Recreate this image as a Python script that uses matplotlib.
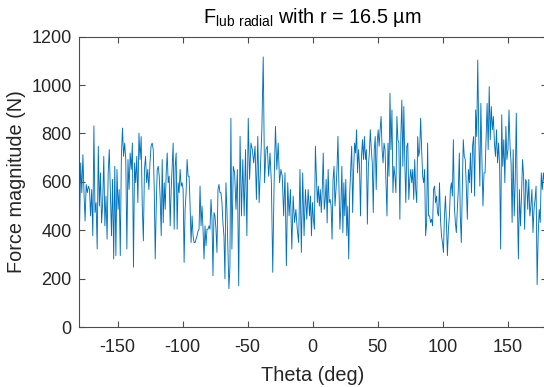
import numpy as np
import matplotlib
matplotlib.use("Agg")
import matplotlib.pyplot as plt

plt.rcParams['font.family'] = ['Liberation Sans', 'DejaVu Sans']
plt.rcParams['axes.unicode_minus'] = False
plt.rcParams['mathtext.default'] = 'regular'

# Force values (N), segment by segment along theta
seg1 = [500, 430, 678, 555, 712, 555, 438, 589, 555, 582, 568, 459, 568, 377, 831, 473, 514, 322,
        747, 500, 637, 430, 514, 705, 418, 541, 363, 637, 733, 555, 377, 610, 281, 664, 295, 651,
        486, 568, 295, 705, 822, 705, 760, 692, 322, 692, 568, 719, 651, 760, 247, 678, 596, 705,
        514, 801, 692, 787, 500, 356, 651, 705, 596, 651, 568, 678, 747, 760]
seg2 = [733, 568, 281, 500, 651, 664, 623, 527, 377, 692, 430, 596, 486, 637, 719, 596, 623, 418,
        568, 664, 760, 404, 664, 719, 404, 596, 555, 651, 582, 596, 568, 267, 486, 555, 692, 623,
        623, 500, 349, 459, 377, 349, 349, 363, 377, 397, 404, 582, 418, 500, 404, 281, 418, 336,
        404, 404, 418, 404, 527, 445, 212, 473, 459, 404, 308, 568, 589, 555, 555, 514, 430, 377,
        199, 596, 486, 322, 158, 247, 863]
seg3 = [322, 664, 637, 486, 651, 171, 788, 459, 692, 459, 733, 377, 863, 610, 760, 733, 678, 747,
        527, 788, 514, 664, 815, 1116, 596, 733, 747, 623, 719, 596, 226, 596, 829, 651, 760, 596,
        651, 623, 459, 637, 253, 596, 459, 568, 322, 541, 432, 486, 404, 349, 651, 308, 637, 377,
        568, 445, 568]
seg4 = [459, 541, 377, 514, 445, 404, 747, 623, 514, 582, 500, 568, 473, 568, 719, 486, 527, 610,
        430, 651, 514, 527, 500, 363, 610, 664, 500, 568, 651, 788, 582, 404, 500, 664, 390, 596,
        459, 610, 377, 500, 281, 555, 651, 747, 473, 651, 760, 719, 815, 637, 733, 664, 459, 705,
        774, 692, 787, 692, 733, 425, 664, 719, 815, 733, 678, 473, 733, 787, 568, 760, 815, 747,
        815, 870, 733, 678, 760, 733, 596]
seg5 = [459, 760, 623, 966, 733, 897, 555, 664, 623, 555, 870, 774, 760, 445, 787, 938, 664, 911,
        678, 514, 747, 760, 527, 610, 651, 596, 651, 527, 692, 568, 514, 787, 705, 733, 863, 733,
        623, 596, 651, 377, 430, 760, 459, 459, 432, 445, 418, 568, 582, 514, 541, 473, 459, 596,
        445, 377, 349, 308, 459, 541, 432, 295, 404, 459, 568, 596, 541, 774, 500, 432, 390, 486,
        568, 719, 459, 349, 568, 774, 705]
seg6 = [692, 582, 445, 651, 596, 719, 555, 747, 787, 541, 897, 787, 1103, 787, 582, 924, 692, 500,
        637, 637, 774, 924, 733, 993, 774, 911, 815, 870, 760, 705, 815, 678, 760, 664, 322, 877,
        664, 774, 596, 829, 692, 733, 897, 747, 678, 432, 733, 459, 610, 884, 527, 281, 568, 418,
        541, 692, 623, 404, 610, 596, 486, 610, 459, 500, 568, 390, 486, 527, 582, 175, 377, 486,
        432, 637, 568, 637, 596, 555, 596]

segments = [seg1, seg2, seg3, seg4, seg5, seg6]
seg_bounds = [-180, -122.5, -62.0, -2.3, 57.3, 117.5, 180]

x_ticks = [-150, -100, -50, 0, 50, 100, 150]
y_ticks = [0, 200, 400, 600, 800, 1000, 1200]

theta_parts = []
for i, s in enumerate(segments):
    last = (i == len(segments) - 1)
    theta_parts.append(np.linspace(seg_bounds[i], seg_bounds[i + 1], len(s), endpoint=last))
theta = np.concatenate(theta_parts)
force = np.concatenate([np.asarray(s, dtype=float) for s in segments])

W, H = 544, 387
fig = plt.figure(figsize=(W / 100, H / 100), dpi=100)
left, right, top, bottom = 78.5, 546.5, 36.6, 327.0
ax = fig.add_axes([left / W, (H - bottom) / H, (right - left) / W, (bottom - top) / H])

ax.plot(theta, force, color='#0072BD', linewidth=0.65)

ax.set_xlim(-180, 180)
ax.set_ylim(0, 1200)
ax.set_xticks(x_ticks)
ax.set_yticks(y_ticks)

axcol = '#262626'
for sp in ax.spines.values():
    sp.set_color('#4d4d4d')
    sp.set_linewidth(0.8)
ax.tick_params(direction='in', length=4, width=0.8, color='#4d4d4d', top=True, right=True,
               labelsize=13, labelcolor=axcol, pad=5)
ax.tick_params(axis='x', pad=9)

ax.set_xlabel('Theta (deg)', fontsize=14.3, color=axcol, labelpad=7)
ax.set_ylabel('Force magnitude (N)', fontsize=14.3, color=axcol, labelpad=4)
ax.set_title(r'$\mathregular{F_{lub\ radial}}$ with r = 16.5 µm', fontsize=14.3, color='#000000', pad=9.5)

fig.savefig('out.png', dpi=100)
